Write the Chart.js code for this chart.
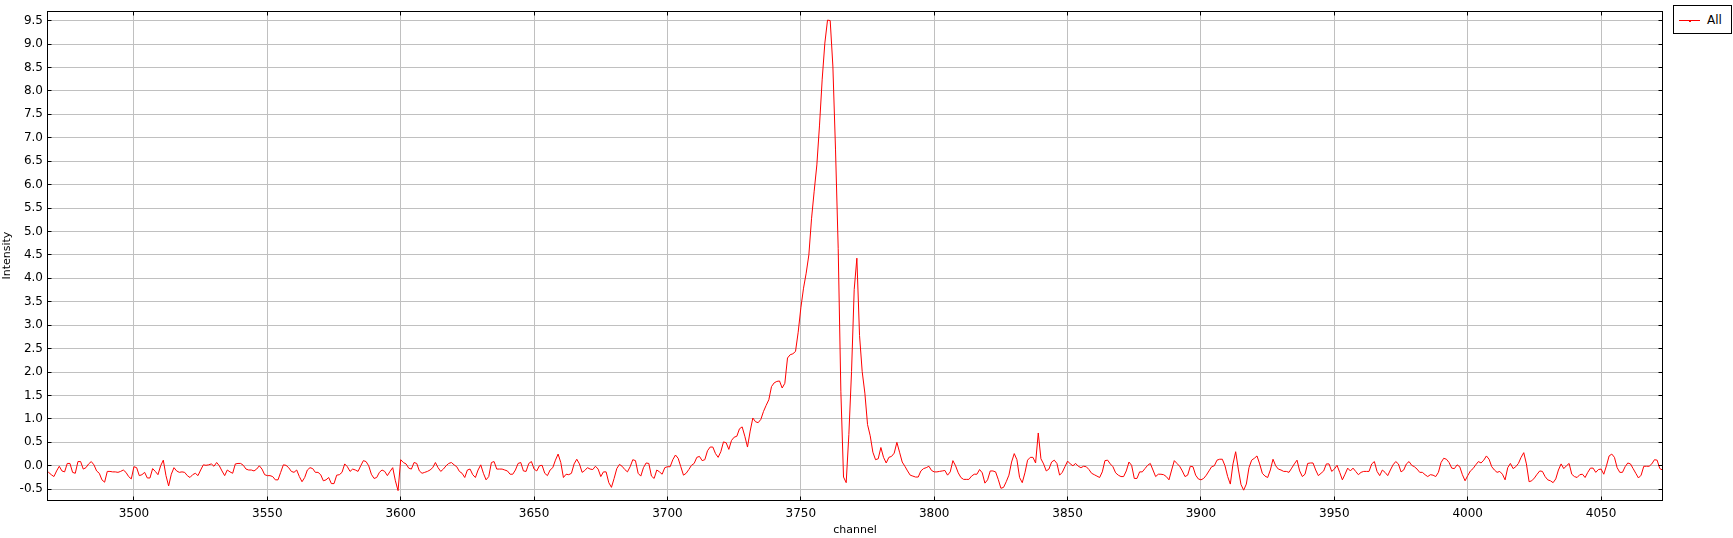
<!DOCTYPE html>
<html>
<head>
<meta charset="utf-8">
<title>Intensity vs channel</title>
<script src="https://cdn.jsdelivr.net/npm/chart.js@4/dist/chart.umd.min.js"></script>
<style>
  body { margin: 0; background: #fff; }
  #wrap { position: relative; width: 1733px; height: 538px; }
  #legend { position: absolute; left: 1673px; top: 5px; width: 57px; height: 27px;
            border: 1px solid #000; background: #fff; font: 12px "DejaVu Sans", sans-serif; color: #000; }
  #legend .swatch { position: absolute; left: 5px; top: 14px; width: 21px; height: 1px; background: #f00; }
  #legend .dot { position: absolute; left: 15px; top: 14px; width: 2px; height: 2px; background: #f00; }
  #legend .label { position: absolute; left: 33px; top: 7px; line-height: 14px; }
</style>
</head>
<body>
<div id="wrap">
  <canvas id="spectrum" width="1733" height="538"></canvas>
  <div id="legend"><span class="swatch"></span><span class="dot"></span><span class="label">All</span></div>
</div>
<script>
// channel of the first value, one value per channel after that
const FIRST_CHANNEL = 3467;

// 3467 - 3566
const intensityA = [
  -0.13, -0.14, -0.19, -0.23, -0.11, -0.01, -0.11, -0.13, 0.05, 0.05,
  -0.14, -0.16, 0.09, 0.09, -0.07, -0.04, 0.04, 0.09, 0.02, -0.11,
  -0.16, -0.30, -0.35, -0.12, -0.12, -0.13, -0.13, -0.14, -0.12, -0.09,
  -0.14, -0.23, -0.28, -0.02, -0.04, -0.21, -0.19, -0.14, -0.26, -0.26,
  -0.06, -0.12, -0.19, 0.00, 0.12, -0.21, -0.43, -0.18, -0.04, -0.11,
  -0.14, -0.13, -0.14, -0.21, -0.25, -0.19, -0.16, -0.21, -0.09, 0.02,
  0.01, 0.02, 0.04, -0.01, 0.07, 0.00, -0.11, -0.21, -0.09, -0.13,
  -0.16, 0.04, 0.05, 0.05, 0.01, -0.07, -0.09, -0.09, -0.11, -0.07,
  0.00, -0.07, -0.19, -0.21, -0.21, -0.23, -0.30, -0.30, -0.14, 0.02,
  0.01, -0.04, -0.12, -0.14, -0.09, -0.23, -0.34, -0.25, -0.09, -0.04
];
// 3567 - 3666
const intensityB = [
  -0.06, -0.14, -0.14, -0.19, -0.32, -0.30, -0.25, -0.38, -0.38, -0.20,
  -0.19, -0.14, 0.04, -0.02, -0.12, -0.07, -0.09, -0.12, 0.00, 0.11,
  0.09, 0.00, -0.18, -0.27, -0.25, -0.14, -0.09, -0.12, -0.21, -0.12,
  -0.04, -0.32, -0.53, 0.13, 0.07, 0.04, -0.05, -0.07, 0.07, 0.05,
  -0.11, -0.16, -0.14, -0.12, -0.09, -0.04, 0.07, -0.04, -0.12, -0.07,
  0.00, 0.05, 0.07, 0.02, -0.02, -0.12, -0.16, -0.25, -0.09, -0.07,
  -0.19, -0.25, -0.09, 0.02, -0.16, -0.30, -0.23, 0.07, 0.09, -0.07,
  -0.07, -0.07, -0.09, -0.11, -0.18, -0.18, -0.09, 0.05, 0.07, -0.11,
  -0.12, 0.05, 0.09, -0.07, -0.11, 0.00, 0.01, -0.16, -0.21, -0.09,
  -0.04, 0.12, 0.25, 0.07, -0.25, -0.18, -0.19, -0.16, 0.04, 0.14
];
// 3667 - 3766 (main peak)
const intensityC = [
  0.04, -0.14, -0.10, -0.04, -0.07, -0.08, -0.01, -0.07, -0.23, -0.13,
  -0.13, -0.36, -0.46, -0.27, -0.06, 0.03, -0.01, -0.08, -0.13, -0.02,
  0.13, 0.11, -0.16, -0.22, -0.04, 0.06, 0.05, -0.22, -0.27, -0.09,
  -0.13, -0.18, -0.04, -0.02, -0.02, 0.13, 0.23, 0.16, -0.02, -0.20,
  -0.16, -0.08, 0.01, 0.05, 0.18, 0.20, 0.11, 0.13, 0.32, 0.40,
  0.40, 0.26, 0.18, 0.30, 0.51, 0.49, 0.35, 0.54, 0.61, 0.63,
  0.79, 0.83, 0.63, 0.40, 0.74, 1.02, 0.94, 0.92, 0.99, 1.16,
  1.29, 1.41, 1.69, 1.77, 1.80, 1.81, 1.66, 1.76, 2.30, 2.37,
  2.39, 2.44, 2.85, 3.37, 3.79, 4.11, 4.50, 5.27, 5.86, 6.42,
  7.27, 8.25, 9.02, 9.51, 9.50, 8.53, 6.74, 4.64, 1.58, -0.24
];
// 3767 - 3866 (second peak)
const intensityD = [
  -0.36, 0.67, 2.01, 3.76, 4.43, 2.78, 2.01, 1.55, 0.88, 0.64,
  0.29, 0.13, 0.15, 0.39, 0.18, 0.06, 0.18, 0.20, 0.27, 0.50,
  0.29, 0.08, -0.01, -0.11, -0.20, -0.22, -0.24, -0.24, -0.11, -0.06,
  -0.04, -0.01, -0.10, -0.13, -0.13, -0.12, -0.11, -0.10, -0.20, -0.13,
  0.11, 0.00, -0.15, -0.25, -0.29, -0.29, -0.29, -0.22, -0.18, -0.18,
  -0.08, -0.15, -0.37, -0.30, -0.11, -0.11, -0.13, -0.29, -0.48, -0.46,
  -0.34, -0.20, 0.08, 0.26, 0.13, -0.25, -0.36, -0.15, 0.12, 0.18,
  0.18, 0.06, 0.70, 0.15, 0.04, -0.11, -0.07, 0.08, 0.12, 0.05,
  -0.20, -0.14, -0.02, 0.10, 0.04, 0.00, 0.05, -0.01, -0.04, -0.01,
  -0.02, -0.08, -0.16, -0.19, -0.22, -0.25, -0.13, 0.11, 0.12, 0.04
];
// 3867 - 3966
const intensityE = [
  -0.02, -0.15, -0.20, -0.23, -0.23, -0.11, 0.08, 0.01, -0.27, -0.27,
  -0.13, -0.13, -0.06, 0.01, 0.05, -0.09, -0.23, -0.18, -0.18, -0.19,
  -0.23, -0.30, -0.09, 0.11, 0.05, -0.01, -0.11, -0.23, -0.20, -0.01,
  -0.02, -0.20, -0.28, -0.30, -0.27, -0.20, -0.11, -0.02, 0.00, 0.12,
  0.14, 0.14, 0.00, -0.23, -0.39, 0.04, 0.30, -0.07, -0.40, -0.52,
  -0.39, -0.04, 0.12, 0.16, 0.21, 0.04, -0.16, -0.22, -0.25, -0.09,
  0.14, 0.00, -0.07, -0.09, -0.12, -0.12, -0.14, -0.05, 0.04, 0.12,
  -0.11, -0.23, -0.18, 0.05, 0.06, 0.06, -0.09, -0.21, -0.16, -0.11,
  0.04, 0.04, -0.12, -0.07, 0.01, -0.14, -0.30, -0.18, -0.05, -0.11,
  -0.05, -0.12, -0.19, -0.14, -0.12, -0.12, -0.12, 0.04, 0.09, -0.12
];
// 3967 - 4073
const intensityF = [
  -0.21, -0.09, -0.14, -0.21, -0.09, 0.02, 0.09, 0.04, -0.13, -0.09,
  0.04, 0.09, 0.01, -0.02, -0.07, -0.14, -0.14, -0.19, -0.23, -0.19,
  -0.20, -0.23, -0.14, 0.07, 0.16, 0.14, 0.07, -0.05, -0.06, 0.02,
  -0.02, -0.19, -0.32, -0.21, -0.11, -0.06, 0.02, 0.09, 0.06, 0.12,
  0.21, 0.14, -0.02, -0.09, -0.14, -0.12, -0.18, -0.30, -0.04, 0.05,
  -0.06, -0.02, 0.05, 0.18, 0.28, 0.04, -0.34, -0.32, -0.26, -0.18,
  -0.11, -0.12, -0.23, -0.30, -0.32, -0.36, -0.28, -0.09, 0.04, -0.06,
  0.00, 0.05, -0.18, -0.23, -0.25, -0.19, -0.18, -0.25, -0.14, -0.05,
  -0.05, -0.14, -0.08, -0.07, -0.18, 0.00, 0.21, 0.25, 0.18, -0.04,
  -0.14, -0.14, -0.02, 0.06, 0.04, -0.06, -0.16, -0.26, -0.20, -0.01,
  -0.01, -0.01, 0.04, 0.13, 0.12, -0.06, -0.09
];

const xTickValues = [3500, 3550, 3600, 3650, 3700, 3750, 3800, 3850, 3900, 3950, 4000, 4050];
const yTickValues = [-0.5, 0, 0.5, 1, 1.5, 2, 2.5, 3, 3.5, 4, 4.5, 5, 5.5, 6, 6.5, 7, 7.5, 8, 8.5, 9, 9.5];

const intensity = [].concat(intensityA, intensityB, intensityC, intensityD, intensityE, intensityF);
const points = intensity.map((v, i) => ({ x: FIRST_CHANNEL + i, y: v }));

const FONT = "DejaVu Sans";
const TICK_LEN = 4;

// black frame round the plot, with short tick marks pointing inwards on all four sides
const plotFrame = {
  id: "plotFrame",
  afterDatasetsDraw(chart) {
    const { ctx, chartArea: a, scales: { x, y } } = chart;
    const L = Math.round(a.left - 0.5) + 0.5;
    const R = Math.round(a.right - 0.5) - 0.5;
    const T = Math.round(a.top - 0.5) + 0.5;
    const B = Math.round(a.bottom - 0.5) + 0.5;
    ctx.save();
    ctx.strokeStyle = "#000";
    ctx.lineWidth = 1;
    ctx.strokeRect(L, T, R - L, B - T);
    ctx.beginPath();
    xTickValues.forEach((v) => {
      const px = Math.round(x.getPixelForValue(v) - 0.5) + 0.5;
      ctx.moveTo(px, B); ctx.lineTo(px, B - TICK_LEN);
      ctx.moveTo(px, T); ctx.lineTo(px, T + TICK_LEN);
    });
    yTickValues.forEach((v) => {
      const py = Math.round(y.getPixelForValue(v) - 0.5) + 0.5;
      ctx.moveTo(L, py); ctx.lineTo(L + TICK_LEN, py);
      ctx.moveTo(R, py); ctx.lineTo(R - TICK_LEN, py);
    });
    ctx.stroke();
    ctx.restore();
  }
};

new Chart(document.getElementById("spectrum").getContext("2d"), {
  type: "line",
  data: {
    datasets: [{
      label: "All",
      data: points,
      borderColor: "#ff0000",
      borderWidth: 1,
      pointRadius: 0,
      tension: 0,
      fill: false
    }]
  },
  options: {
    responsive: false,
    animation: false,
    events: [],
    layout: { padding: { left: 0, right: 70, top: 5, bottom: 0 } },
    plugins: { legend: { display: false }, tooltip: { enabled: false } },
    scales: {
      x: {
        type: "linear",
        min: 3467.4,
        max: 4073.2,
        afterBuildTicks: (s) => { s.ticks = xTickValues.map((v) => ({ value: v })); },
        afterFit: (s) => { s.height = 38; },
        grid: { color: "#c0c0c0", lineWidth: 1, drawTicks: false },
        border: { display: false },
        ticks: {
          padding: 7, autoSkip: false, maxRotation: 0, color: "#000",
          font: { family: FONT, size: 12 },
          callback: (v) => String(v)
        },
        title: {
          display: true, text: "channel", color: "#000",
          font: { family: FONT, size: 11 }, padding: { top: 0, bottom: 1 }
        }
      },
      y: {
        type: "linear",
        min: -0.73,
        max: 9.7,
        afterBuildTicks: (s) => { s.ticks = yTickValues.map((v) => ({ value: v })); },
        afterFit: (s) => { s.width = 47; },
        grid: { color: "#c0c0c0", lineWidth: 1, drawTicks: false },
        border: { display: false },
        ticks: {
          padding: 4, autoSkip: false, color: "#000",
          font: { family: FONT, size: 12 },
          callback: (v) => Number(v).toFixed(1)
        },
        title: {
          display: true, text: "Intensity", color: "#000",
          font: { family: FONT, size: 11 }, padding: { top: 1, bottom: 0 }
        }
      }
    }
  },
  plugins: [plotFrame]
});
</script>
</body>
</html>
